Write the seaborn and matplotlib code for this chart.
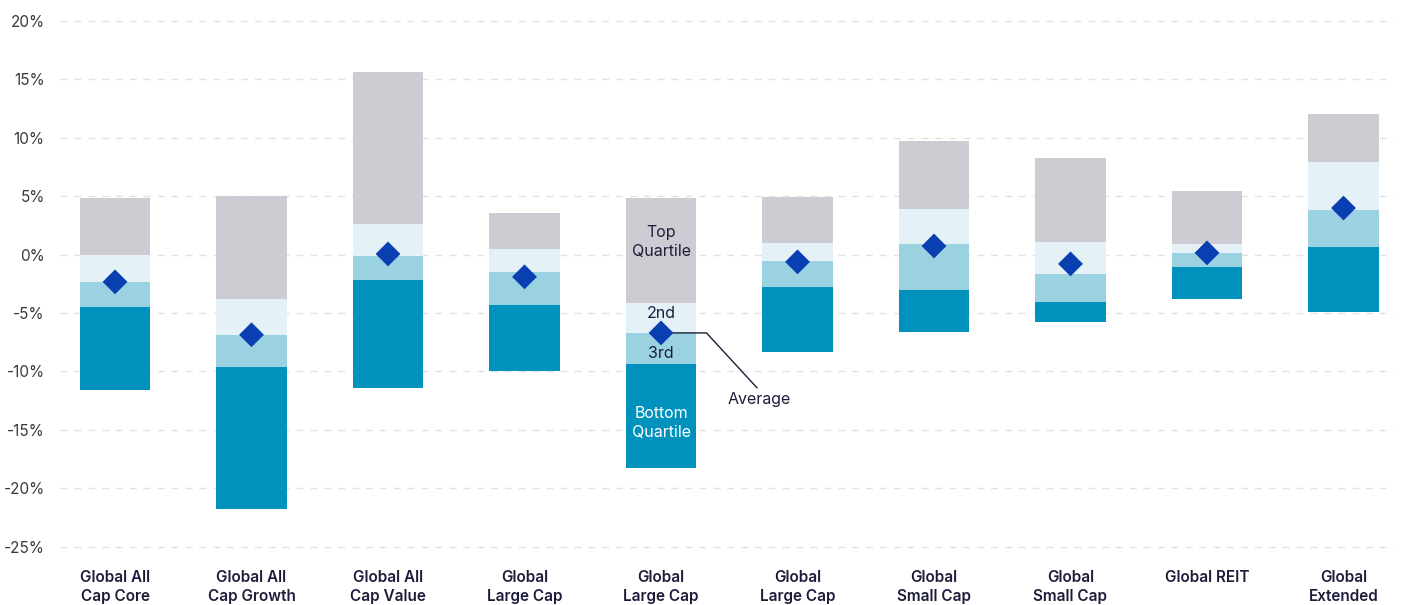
import matplotlib
matplotlib.use("Agg")
import matplotlib.pyplot as plt
import seaborn as sns
import numpy as np
import pandas as pd

# Fund universes
categories = [
    "Global All\nCap Core", "Global All\nCap Growth", "Global All\nCap Value",
    "Global\nLarge Cap", "Global\nLarge Cap", "Global\nLarge Cap",
    "Global\nSmall Cap", "Global\nSmall Cap", "Global REIT", "Global\nExtended",
]

# Quartile breakpoints (%): max, 25th pct, median, 75th pct, min
top_edge    = [4.84, 5.01, 15.6, 3.56, 4.84, 4.93, 9.71, 8.26, 5.44, 12.0]
q1_edge     = [-0.05, -3.76, 2.62, 0.49, -4.12, 1.00, 3.90, 1.08, 0.91, 7.92]
median_edge = [-2.33, -6.86, -0.11, -1.48, -6.68, -0.54, 0.91, -1.65, 0.15, 3.82]
q3_edge     = [-4.47, -9.59, -2.16, -4.30, -9.33, -2.76, -3.01, -4.04, -1.05, 0.66]
bottom_edge = [-11.6, -21.78, -11.44, -10.0, -18.27, -8.37, -6.58, -5.75, -3.78, -4.95]

# Peer-group average (%)
average = [-2.33, -6.86, 0.06, -1.90, -6.70, -0.62, 0.74, -0.79, 0.15, 3.99]

y_ticks = [20, 15, 10, 5, 0, -5, -10, -15, -20, -25]

sns.set_theme(style="white")
plt.rcParams["font.family"] = ["Inter", "DejaVu Sans"]

NAVY = "#1d1d3b"
C_TOP = "#cdccd2"
C_2ND = "#e4f2f7"
C_3RD = "#9bd2e2"
C_BOT = "#0091bc"
C_AVG = "#0a3fb1"

fig = plt.figure(figsize=(14.02, 6.05), dpi=100)
ax = fig.add_axes([60 / 1402, 1 - 550.2 / 605, (1394 - 60) / 1402, (550.2 - 17.5) / 605])

pos = np.arange(len(categories))
df = pd.DataFrame({
    "pos": pos,
    "top": top_edge, "q1": q1_edge, "med": median_edge,
    "q3": q3_edge, "bot": bottom_edge, "avg": average,
})

layers = [
    ("q1", "top", C_TOP),
    ("med", "q1", C_2ND),
    ("q3", "med", C_3RD),
    ("bot", "q3", C_BOT),
]
bar_w = 0.513
for lo, hi, col in layers:
    ax.bar(df["pos"], df[hi] - df[lo], bottom=df[lo], width=bar_w,
           color=col, linewidth=0, zorder=2)

sns.scatterplot(data=df, x="pos", y="avg", marker="D", s=160, color=C_AVG,
                edgecolor="none", ax=ax, zorder=4, legend=False)

ax.set_xlim(-0.403, 9.37)
ax.set_ylim(-25.3, 20.3)
ax.set_yticks(y_ticks)
ax.set_yticklabels([f"{v}%" for v in y_ticks], fontsize=11, color="#3a3a3a")
ax.set_xticks(pos)
ax.set_xticklabels(categories, fontsize=11, color=NAVY, fontweight="semibold",
                   linespacing=1.4)
ax.tick_params(axis="y", length=0, pad=11)
ax.tick_params(axis="x", length=0, pad=14)
ax.set_xlabel("")
ax.set_ylabel("")
for s in ax.spines.values():
    s.set_visible(False)

ax.yaxis.grid(True, color="#e2e2e2", linestyle=(0, (5, 5)), linewidth=1.0, zorder=0)
ax.xaxis.grid(False)
ax.set_axisbelow(True)

# Quartile labels on the fifth bar
i = 4
ax.text(i, 1.08, "Top\nQuartile", ha="center", va="center", fontsize=11.5,
        color=NAVY, linespacing=1.35, zorder=5)
ax.text(i, -5.0, "2nd", ha="center", va="center", fontsize=11.5, color=NAVY, zorder=5)
ax.text(i, -8.45, "3rd", ha="center", va="center", fontsize=11.5, color=NAVY, zorder=5)
ax.text(i, -14.4, "Bottom\nQuartile", ha="center", va="center", fontsize=11.5,
        color="white", linespacing=1.35, zorder=5)

# Callout for the average marker
ax.plot([i, i + 0.333, i + 0.704], [average[i], average[i], -11.41],
        color=NAVY, linewidth=1.0, zorder=3)
ax.text(i + 0.72, -12.4, "Average", ha="center", va="center", fontsize=11.5,
        color=NAVY, zorder=5)

fig.savefig("out.png", dpi=100)
